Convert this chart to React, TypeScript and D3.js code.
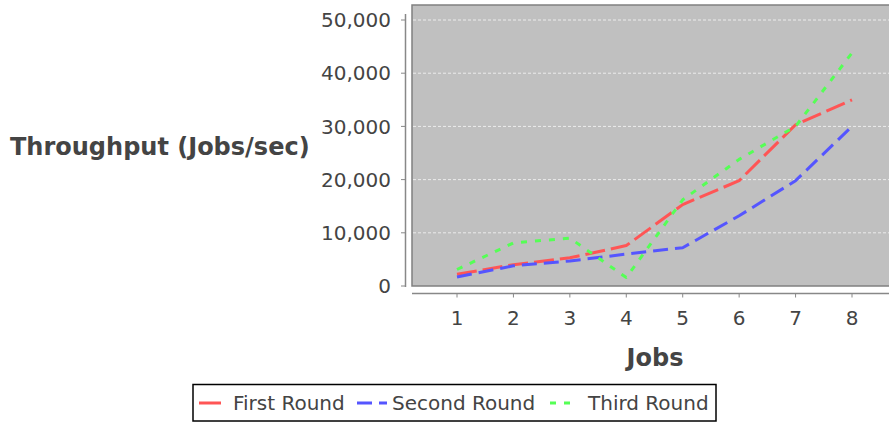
import React from "react";
import * as d3 from "d3";

const jobs = [1, 2, 3, 4, 5, 6, 7, 8];
const firstRound = [2200, 4000, 5300, 7600, 15300, 19800, 30300, 35000];
const secondRound = [1700, 3800, 4700, 6000, 7200, 13200, 19800, 30000];
const thirdRound = [3100, 8100, 9000, 1600, 16200, 23800, 30000, 43800];
const yTicks = [0, 10000, 20000, 30000, 40000, 50000];
const seriesNames = ["First Round", "Second Round", "Third Round"];
const seriesColors = ["#ff5555", "#5555ff", "#55ff55"];
const seriesDash = ["20,6", "15,7", "6,8"];

const W = 889;
const H = 423;
const plot = { left: 412, right: 889, top: 5, bottom: 286 };

export default function App() {
  const x = d3.scaleLinear().domain([1, 8]).range([457, 852]);
  const y = d3.scaleLinear().domain([0, 50000]).range([286, 20]);
  const line = d3
    .line<number>()
    .x((_, i) => x(jobs[i]))
    .y((d) => y(d));
  const series = [firstRound, secondRound, thirdRound];
  const font = "'DejaVu Sans', Verdana, sans-serif";
  const textColor = "#444444";
  const axisColor = "#888888";
  const legendLineX = [199, 357, 550];
  const legendLineLen = [30, 30, 23];
  const legendTextX = [233, 392, 588];
  const legendY = 403;

  return (
    <svg
      width={W}
      height={H}
      style={{ position: "absolute", left: 0, top: 0, background: "#ffffff" }}
      fontFamily={font}
    >
      <defs>
        <clipPath id="plotClip">
          <rect x={plot.left} y={plot.top} width={plot.right - plot.left} height={plot.bottom - plot.top} />
        </clipPath>
      </defs>
      <rect x={0} y={0} width={W} height={H} fill="#ffffff" />
      {/* plot background */}
      <rect
        x={plot.left}
        y={plot.top}
        width={plot.right - plot.left + 5}
        height={plot.bottom - plot.top}
        fill="#c0c0c0"
        stroke="#808080"
        strokeWidth={1.5}
      />
      {/* gridlines */}
      {yTicks.map((t) =>
        t === 0 ? null : (
          <line
            key={"g" + t}
            x1={plot.left + 1}
            x2={plot.right}
            y1={y(t)}
            y2={y(t)}
            stroke="#ececec"
            strokeWidth={1}
            strokeDasharray="3,2"
          />
        )
      )}
      {/* series */}
      <g clipPath="url(#plotClip)">
        {series.map((s, i) => (
          <path
            key={seriesNames[i]}
            d={line(s) || ""}
            fill="none"
            stroke={seriesColors[i]}
            strokeWidth={3}
            strokeDasharray={seriesDash[i]}
            strokeLinejoin="round"
          />
        ))}
      </g>
      {/* y axis */}
      <line x1={405.5} x2={405.5} y1={14} y2={plot.bottom + 1} stroke={axisColor} strokeWidth={1.5} />
      {yTicks.map((t) => (
        <g key={"y" + t}>
          <line x1={401} x2={405.5} y1={y(t)} y2={y(t)} stroke={axisColor} strokeWidth={1} />
          <text
            x={391}
            y={y(t)}
            dy="0.36em"
            textAnchor="end"
            fontSize={20}
            fill={textColor}
          >
            {d3.format(",")(t)}
          </text>
        </g>
      ))}
      {/* x axis */}
      <line x1={412} x2={889} y1={293.5} y2={293.5} stroke={axisColor} strokeWidth={1.5} />
      {jobs.map((j) => (
        <g key={"x" + j}>
          <line x1={x(j)} x2={x(j)} y1={293.5} y2={297.5} stroke={axisColor} strokeWidth={1} />
          <text x={x(j)} y={324.5} textAnchor="middle" fontSize={20} fill={textColor}>
            {j}
          </text>
        </g>
      ))}
      {/* axis labels */}
      <text x={655} y={366} textAnchor="middle" fontSize={24} fontWeight="bold" fill={textColor}>
        Jobs
      </text>
      <text x={10} y={155} fontSize={24} fontWeight="bold" fill={textColor}>
        Throughput (Jobs/sec)
      </text>
      {/* legend */}
      <rect x={193} y={384.5} width={523} height={36.5} fill="#ffffff" stroke="#000000" strokeWidth={1.5} />
      {seriesNames.map((n, i) => (
        <g key={"l" + n}>
          <line
            x1={legendLineX[i]}
            x2={legendLineX[i] + legendLineLen[i]}
            y1={legendY}
            y2={legendY}
            stroke={seriesColors[i]}
            strokeWidth={3}
            strokeDasharray={i === 0 ? "22,8" : seriesDash[i]}
          />
          <text x={legendTextX[i]} y={legendY} dy="0.36em" fontSize={20} fill={textColor}>
            {n}
          </text>
        </g>
      ))}
    </svg>
  );
}
